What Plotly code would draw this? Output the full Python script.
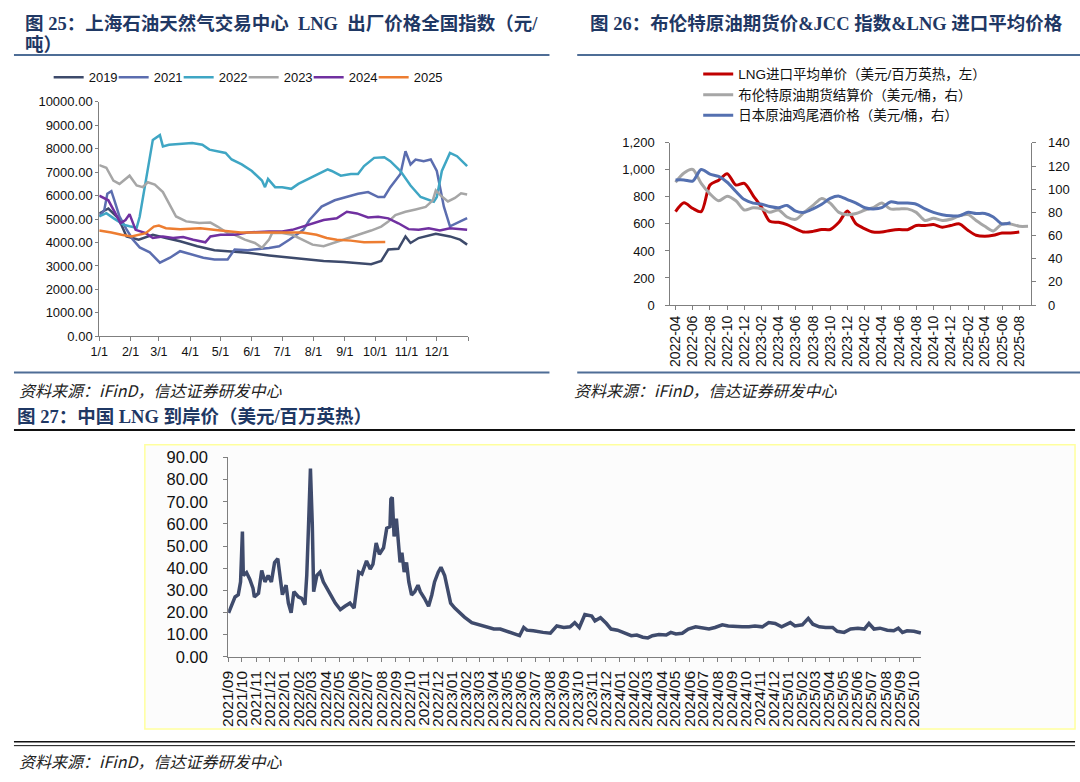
import plotly.graph_objects as go

# ---- 图25: LNG 出厂价格全国指数, day-of-year vs price (元/吨)
d2019 = [0, 9, 19, 27, 39, 53, 66, 80, 97, 114, 127, 147, 168, 181, 201, 222, 242, 259, 269, 279, 286, 296, 303, 308, 316, 333, 347, 357, 364]
v2019 = [5240, 5450, 5030, 4260, 4120, 4330, 4190, 4050, 3840, 3670, 3630, 3560, 3450, 3390, 3310, 3210, 3170, 3110, 3070, 3210, 3700, 3730, 4260, 3980, 4190, 4370, 4260, 4120, 3910]

d2021 = [0, 5, 8, 12, 15, 20, 27, 33, 40, 50, 60, 70, 80, 86, 93, 103, 114, 127, 134, 147, 168, 178, 188, 202, 208,
         215, 220, 233, 246, 256, 266, 276, 282, 288, 298, 303, 308, 313, 321, 328, 334, 341, 347, 354, 364]
v2021 = [5110, 5390, 6080, 6190, 5800, 5110, 4560, 4140, 3790, 3580, 3140, 3350, 3630, 3560, 3490, 3350, 3280, 3280, 3700, 3670, 3770, 3840, 4120, 4540, 4960,
         5310, 5530, 5800, 5940, 6080, 6150, 5940, 5940, 6360, 6920, 7890, 7330, 7540, 7470, 7540, 7050, 5530, 4690, 4830, 5040]

d2022 = [0, 7, 14, 24, 30, 37, 40, 46, 53, 60, 63, 69, 79, 92, 102, 109, 125, 131, 141, 151, 161, 164, 167, 174, 181,
         190, 197, 207, 216, 226, 230, 239, 249, 256, 262, 272, 282, 288, 298, 308, 318, 331, 334, 339, 347, 354, 364]
v2022 = [5110, 5250, 5040, 4760, 4690, 4625, 5100, 6640, 8375, 8580, 8100, 8170, 8190, 8240, 8170, 7960, 7820, 7540, 7330, 7050, 6640, 6360, 6710, 6360, 6360,
         6290, 6500, 6710, 6920, 7120, 7050, 6850, 6920, 6920, 7260, 7610, 7640, 7470, 7050, 6430, 5940, 5740, 5940, 7050, 7820, 7680, 7260]

d2023 = [0, 7, 14, 20, 30, 37, 43, 48, 55, 63, 69, 76, 86, 99, 110, 117, 127, 134, 144, 154, 161, 168, 171, 181, 191,
         201, 211, 222, 232, 245, 259, 269, 279, 286, 293, 303, 313, 323, 330, 333, 338, 345, 352, 358, 364]
v2023 = [7300, 7190, 6640, 6500, 6850, 6430, 6360, 6570, 6470, 6150, 5670, 5110, 4900, 4830, 4850, 4680, 4400, 4330, 4120, 3980, 3770, 4120, 4400, 4400, 4330,
         4120, 3910, 3840, 3980, 4190, 4370, 4510, 4680, 4890, 5170, 5310, 5410, 5520, 5800, 6220, 6000, 5750, 5900, 6100, 6050]

d2024 = [0, 9, 16, 21, 26, 30, 36, 46, 53, 63, 73, 83, 93, 105, 110, 120, 134, 147, 168, 181, 191, 201, 211, 222, 235,
         245, 255, 266, 276, 286, 296, 306, 316, 326, 337, 347, 364]
v2024 = [6000, 5800, 5240, 4820, 4960, 5210, 4540, 4400, 4190, 4260, 4190, 4230, 4120, 4010, 4260, 4330, 4330, 4430, 4470, 4470, 4540, 4680, 4820, 4960, 5030,
         5310, 5240, 5070, 5100, 5030, 4820, 4570, 4540, 4610, 4510, 4610, 4540]

d2025 = [0, 12, 22, 32, 46, 54, 59, 66, 80, 100, 120, 140, 161, 181, 201, 215, 225, 235, 249, 262, 283]
v2025 = [4510, 4430, 4330, 4260, 4400, 4680, 4720, 4610, 4570, 4610, 4510, 4430, 4430, 4430, 4430, 4330, 4190, 4120, 4080, 4010, 4020]

month_days = [0, 31, 59, 90, 120, 151, 181, 212, 243, 273, 304, 334, 365]
month_labels = ["1/1", "2/1", "3/1", "4/1", "5/1", "6/1", "7/1", "8/1", "9/1", "10/1", "11/1", "12/1", ""]

# ---- 图26: monthly series
months26 = ["2022-04", "2022-05", "2022-06", "2022-07", "2022-08", "2022-09", "2022-10", "2022-11", "2022-12",
            "2023-01", "2023-02", "2023-03", "2023-04", "2023-05", "2023-06", "2023-07", "2023-08", "2023-09", "2023-10", "2023-11", "2023-12",
            "2024-01", "2024-02", "2024-03", "2024-04", "2024-05", "2024-06", "2024-07", "2024-08", "2024-09", "2024-10", "2024-11", "2024-12",
            "2025-01", "2025-02", "2025-03", "2025-04", "2025-05", "2025-06", "2025-07", "2025-08", "2025-09"]
lng_import = [691, 756, 715, 691, 888, 924, 972, 888, 900, 810, 720, 619, 612, 595, 564, 540, 545, 559, 559, 612, 696,
              600, 564, 540, 540, 552, 559, 557, 588, 588, 595, 576, 588, 600, 552, 516, 509, 516, 533, 533, 540]
brent = [106, 114, 117, 105, 96, 90, 94, 90, 82, 84, 83, 80, 82, 76, 74, 80, 86, 92, 88, 80, 78,
         79, 82, 84, 88, 83, 83, 83, 80, 73, 75, 73, 74, 77, 78, 73, 68, 64, 70, 70, 68, 68]
jcc = [108, 108, 107, 117, 113, 111, 106, 98, 91, 88, 87, 85, 84, 86, 81, 80, 83, 87, 92, 94, 91,
       88, 84, 83, 84, 89, 88, 88, 87, 83, 80, 78, 77, 77, 80, 79, 79, 76, 70, 71]

# ---- 图27: 中国 LNG 到岸价
d27 = ["2021-09-02", "2021-09-09", "2021-09-16", "2021-09-23", "2021-09-28", "2021-10-02", "2021-10-04", "2021-10-11", "2021-10-18", "2021-10-25", "2021-10-28",
       "2021-11-06", "2021-11-13", "2021-11-20", "2021-11-27", "2021-12-04", "2021-12-11", "2021-12-18", "2021-12-23", "2021-12-28",
       "2022-01-05", "2022-01-10", "2022-01-16", "2022-01-22", "2022-02-01", "2022-02-08", "2022-02-15", "2022-02-19", "2022-02-23", "2022-02-27",
       "2022-03-03", "2022-03-06", "2022-03-13", "2022-03-20", "2022-03-27", "2022-04-05", "2022-04-12", "2022-04-22", "2022-05-03", "2022-05-13", "2022-05-24",
       "2022-06-02", "2022-06-08", "2022-06-12", "2022-06-19", "2022-06-29", "2022-07-07", "2022-07-13", "2022-07-20", "2022-07-27",
       "2022-08-05", "2022-08-12", "2022-08-19", "2022-08-21", "2022-08-24", "2022-08-28", "2022-09-02", "2022-09-06", "2022-09-10", "2022-09-14", "2022-09-19", "2022-09-24", "2022-09-29",
       "2022-10-05", "2022-10-12", "2022-10-19", "2022-10-24", "2022-11-02", "2022-11-11", "2022-11-18", "2022-11-24", "2022-12-02", "2022-12-08", "2022-12-16", "2022-12-23", "2022-12-29",
       "2023-01-07", "2023-01-18", "2023-01-28", "2023-02-13", "2023-02-25", "2023-03-07", "2023-03-18", "2023-04-02", "2023-04-16", "2023-05-01", "2023-05-15", "2023-05-28",
       "2023-06-06", "2023-06-13", "2023-06-27", "2023-07-11", "2023-07-18", "2023-08-03", "2023-08-17", "2023-09-01", "2023-09-15", "2023-09-25",
       "2023-10-05", "2023-10-17", "2023-11-01", "2023-11-08", "2023-11-20", "2023-12-03", "2023-12-13", "2023-12-27",
       "2024-01-12", "2024-01-26", "2024-02-07", "2024-02-20", "2024-03-02", "2024-03-12", "2024-03-26", "2024-04-11", "2024-04-21", "2024-05-02", "2024-05-16", "2024-05-29",
       "2024-06-14", "2024-06-28", "2024-07-13", "2024-07-26", "2024-08-11", "2024-08-24", "2024-09-09", "2024-09-23", "2024-10-08", "2024-10-21", "2024-11-06", "2024-11-20",
       "2024-12-04", "2024-12-18", "2025-01-06", "2025-01-16", "2025-02-01", "2025-02-14", "2025-02-24", "2025-03-10", "2025-03-24", "2025-04-08", "2025-04-18",
       "2025-05-03", "2025-05-17", "2025-06-02", "2025-06-16", "2025-06-26", "2025-07-07", "2025-07-20", "2025-08-05", "2025-08-19", "2025-08-29", "2025-09-07", "2025-09-17", "2025-10-02", "2025-10-17"]
v27 = [19.8, 23.5, 27, 28, 33.8, 56.5, 36.7, 38, 35, 31, 27,
       28.6, 39, 33.8, 36.7, 33.8, 42.6, 44.3, 35, 28,
       32.3, 24.2, 19.8, 29.4, 27, 26.4, 23.5, 36.7, 60, 85,
       60, 29.4, 36.7, 38.2, 33.8, 30.8, 27.9, 24.2, 21.3, 22.8, 24.2,
       22, 30.8, 38.2, 37.4, 43.3, 39.6, 41.8, 51.4, 46.3,
       49.2, 58, 58.7, 71.2, 72, 54.3, 62.4, 51.4, 42.6, 47, 38.2, 42.6, 33.8,
       27.9, 29.4, 32.3, 29.4, 26.4, 22.8, 27.9, 33.8, 38.2, 40.4, 36.7, 29.4, 24.2,
       22, 19.8, 17.9, 15.4, 14.7, 14, 13.5, 12.5, 12.5, 11.5, 10.6, 9.5,
       13.2, 12, 11.7, 11, 11, 10.6, 13.9, 13.2, 13.5, 15.4,
       13.2, 19.1, 18.4, 16.2, 17.6, 15, 12.5, 12,
       10.6, 9.5, 9.8, 8.8, 8.5, 9.5, 10, 9.8, 11, 10.3, 10.6, 12.5,
       13.5, 12.9, 12.5, 13.2, 14.4, 13.9, 13.5, 13.5, 13.5, 13.9, 13.5, 15.4,
       15, 13.5, 15.4, 13.9, 14.4, 17.3, 14.7, 13.5, 13.2, 13.2, 11.5,
       11, 12.5, 12.9, 12.5, 15, 12.5, 12.9, 12, 11.7, 12.9, 11, 11.7, 11.5, 10.7]

W, H = 1080, 782

SANS = "Liberation Sans, Arial, sans-serif"
CJK = "Liberation Sans, Noto Sans CJK SC, sans-serif"
TITLE_FONT = dict(family="Liberation Serif, Noto Sans CJK SC, serif", size=18.5, color="#1F3864")
SRC_FONT = dict(family="Noto Sans CJK SC, sans-serif", size=16, color="#222222")
NB = "\u00a0"


def tf(size):
    return dict(family=SANS, size=size, color="#111111")


def px_x(x):
    return x / W


def px_y(y):
    return 1 - y / H


fig = go.Figure()

# chart 25
series25 = [("2019", d2019, v2019, "#3D4A6B"), ("2021", d2021, v2021, "#5B6DAF"),
            ("2022", d2022, v2022, "#3FA6C4"), ("2023", d2023, v2023, "#A6A6A6"),
            ("2024", d2024, v2024, "#7030A0"), ("2025", d2025, v2025, "#ED7D31")]
for name, xs, ys, col in series25:
    fig.add_trace(go.Scatter(x=xs, y=ys, name=name, mode="lines", line=dict(color=col, width=2.5),
                             xaxis="x", yaxis="y", legend="legend"))
# blank slot so the last legend label is not clipped
fig.add_trace(go.Scatter(x=[None], y=[None], name=" ", mode="lines",
                         line=dict(color="rgba(0,0,0,0)"), xaxis="x", yaxis="y",
                         legend="legend", hoverinfo="skip"))

# chart 26
fig.add_trace(go.Scatter(x=months26[:len(lng_import)], y=lng_import, name="LNG进口平均单价（美元/百万英热，左）",
                         mode="lines", line=dict(color="#C00000", width=3, shape="spline", smoothing=0.8),
                         xaxis="x2", yaxis="y2", legend="legend2", legendgroup="a"))
fig.add_trace(go.Scatter(x=months26[:len(brent)], y=brent, name="布伦特原油期货结算价（美元/桶，右）",
                         mode="lines", line=dict(color="#A6A6A6", width=3, shape="spline", smoothing=0.8),
                         xaxis="x2", yaxis="y3", legend="legend2", legendgroup="b"))
fig.add_trace(go.Scatter(x=months26[:len(jcc)], y=jcc, name="日本原油鸡尾酒价格（美元/桶，右）",
                         mode="lines", line=dict(color="#5470B0", width=3, shape="spline", smoothing=0.8),
                         xaxis="x2", yaxis="y3", legend="legend2", legendgroup="c"))

# chart 27
fig.add_trace(go.Scatter(x=d27, y=v27, mode="lines", line=dict(color="#3F4B6C", width=3.5),
                         xaxis="x3", yaxis="y4", showlegend=False))


def ax(size=13, **kw):
    base = dict(showgrid=False, zeroline=False, showline=True, linecolor="#7F7F7F", linewidth=1,
                ticks="outside", ticklen=4, tickcolor="#7F7F7F", tickfont=tf(size))
    base.update(kw)
    return base


fig.update_layout(
    autosize=True, margin=dict(l=0, r=0, t=0, b=0),
    paper_bgcolor="white", plot_bgcolor="rgba(0,0,0,0)",
    xaxis=ax(12.5, domain=[px_x(91), px_x(463)], anchor="y", range=[0, 365], tickmode="array",
             tickvals=month_days, ticktext=month_labels),
    yaxis=ax(13, domain=[px_y(335), px_y(95)], anchor="x", range=[0, 10000], dtick=1000,
             tickformat=".2f", ticklen=3, ticklabelstandoff=0),
    xaxis2=ax(14, domain=[px_x(667), px_x(1031)], anchor="y2", type="date",
              range=["2022-03-14", "2025-09-13"], tick0="2022-04-01", dtick="M2",
              tickformat="%Y-%m", tickangle=-90),
    yaxis2=ax(13, domain=[px_y(303), px_y(137)], anchor="x2", range=[0, 1200], dtick=200,
              tickformat=",d", ticklabelstandoff=8),
    yaxis3=ax(13, domain=[px_y(303), px_y(137)], anchor="x2", overlaying="y2", side="right",
              range=[0, 140], dtick=20, ticklabelstandoff=9),
    xaxis3=ax(15.5, domain=[px_x(221), px_x(920)], anchor="y4", type="date",
              range=["2021-09-01", "2025-10-18"], tick0="2021-09-01", dtick="M1",
              tickformat="%Y/%m", tickangle=-90, ticklabelstandoff=3),
    yaxis4=ax(16.5, domain=[px_y(663), px_y(459)], anchor="x3", range=[0, 90], dtick=10,
              tickformat=".2f", ticklabelstandoff=12),
    legend=dict(orientation="h", x=px_x(40), y=px_y(70), xanchor="left", yanchor="middle",
                font=dict(family=CJK, size=13, color="#111111"), itemwidth=30,
                entrywidth=20, bgcolor="rgba(0,0,0,0)"),
    legend2=dict(orientation="v", x=px_x(695), y=px_y(51), xanchor="left", yanchor="top",
                 font=dict(family=CJK, size=13.5, color="#111111"), itemwidth=30,
                 tracegroupgap=0, bgcolor="rgba(0,0,0,0)"),
)

shapes = []
# rules for the two upper panels
for x0, x1 in [(5, 545), (573, 1080)]:
    for yy in (47, 372):
        shapes.append(dict(type="line", xref="paper", yref="paper", x0=px_x(x0), x1=px_x(x1),
                           y0=px_y(yy), y1=px_y(yy), line=dict(color="#4E6D96", width=2)))
# rules for the bottom panel
shapes.append(dict(type="line", xref="paper", yref="paper", x0=px_x(5), x1=px_x(1075),
                   y0=px_y(431), y1=px_y(431), line=dict(color="#111111", width=2)))
shapes.append(dict(type="line", xref="paper", yref="paper", x0=px_x(5), x1=px_x(1075),
                   y0=px_y(750), y1=px_y(750), line=dict(color="#111111", width=1.5)))
shapes.append(dict(type="line", xref="paper", yref="paper", x0=px_x(5), x1=px_x(1075),
                   y0=px_y(754), y1=px_y(754), line=dict(color="#111111", width=1)))
# pale frame round chart 27
shapes.append(dict(type="rect", xref="paper", yref="paper", x0=px_x(137), x1=px_x(1075),
                   y0=px_y(737), y1=px_y(446), line=dict(color="#FFFF9E", width=1.5),
                   fillcolor="#FCFCFC", layer="below"))
fig.update_layout(shapes=shapes)

annotations = [
    dict(text=f"<b>图 25：上海石油天然气交易中心{NB}{NB}LNG{NB}{NB}出厂价格全国指数（元/</b>", x=px_x(14), y=px_y(15)),
    dict(text="<b>吨）</b>", x=px_x(14), y=px_y(37)),
    dict(text="<b>图 26：布伦特原油期货价&JCC 指数&LNG 进口平均价格</b>", x=px_x(584), y=px_y(15)),
    dict(text="<b>图 27：中国 LNG 到岸价（美元/百万英热）</b>", x=px_x(6), y=px_y(417)),
]
for a in annotations:
    fig.add_annotation(xref="paper", yref="paper", xanchor="left", yanchor="middle",
                       showarrow=False, font=TITLE_FONT, **a)

for sx, sy in [(8, 390), (568, 390), (8, 770)]:
    fig.add_annotation(text="<i>资料来源：iFinD，信达证券研发中心</i>", xref="paper", yref="paper",
                       x=px_x(sx), y=px_y(sy), xanchor="left", yanchor="middle",
                       showarrow=False, font=SRC_FONT)

# pin the plot div to the page corner so the body margin does not shift it
fig.write_html("out.html", config={"displayModeBar": False},
               default_width="1080px;position:absolute;left:0;top:0", default_height="782px")
